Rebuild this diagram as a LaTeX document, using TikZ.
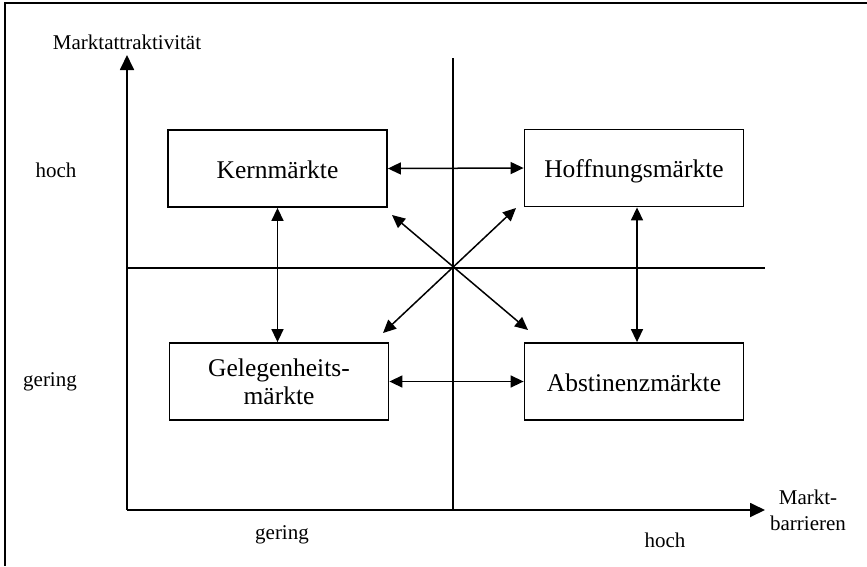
\documentclass[tikz,border=0pt]{standalone}
\usepackage{fontspec}
\setmainfont{Liberation Serif}
\usetikzlibrary{arrows.meta}
\begin{document}
\begin{tikzpicture}[x=1pt,y=-1pt,
  market/.style={draw,line width=1.8pt,minimum width=219pt,minimum height=77pt,
    inner sep=0pt,font=\fontsize{25.5}{28}\selectfont,align=center,
    text height=19pt,text depth=0pt},
  lbl/.style={font=\fontsize{21}{26}\selectfont,inner sep=0pt,align=center},
  axis/.style={line width=1.8pt,-{Triangle[length=15pt,width=14pt]}},
  divider/.style={line width=1.3pt},
  link/.style={line width=1.5pt,{Triangle[length=13pt,width=12pt]}-{Triangle[length=13pt,width=12pt]}},
  frame/.style={line width=1.5pt}]
\useasboundingbox (0,0) rectangle (867,566);
% open frame
\draw[frame] (867,3) -- (5,3) -- (5,566);
% axes
\coordinate (O) at (127,510);
\coordinate (ytip) at (127,55);
\coordinate (xtip) at (765,510);
\draw[axis] (O) -- (ytip);
\draw[axis] (O) -- (xtip);
% quadrant dividers
\coordinate (vtop) at (453,58);
\coordinate (vbot) at (453,510);
\coordinate (hl) at (127,268);
\coordinate (hr) at (765,268);
\draw[divider] (vtop) -- (vbot);
\draw[divider] (hl) -- (hr);
% market boxes
\node[market] (kern) at (277.5,168.5) {Kernmärkte};
\node[market] (hoff) at (634,168) {Hoffnungsmärkte};
\node[market,text height=46pt,text depth=0pt] (gel) at (279,381.5) {Gelegenheits-\\märkte};
\node[market] (abs) at (634,381.5) {Abstinenzmärkte};
% links between boxes
\draw[link] (kern.east) -- (hoff.west);
\draw[link] (gel.east) -- (abs.west);
\draw[link] (kern.south) -- (kern.south |- gel.north);
\draw[link] ([xshift=3pt]hoff.south) -- ([xshift=3pt]hoff.south |- abs.north);
% diagonal links through the centre
\coordinate (dul) at (392,215);
\coordinate (ddr) at (528,330);
\coordinate (dur) at (516,208);
\coordinate (ddl) at (383,333);
\draw[link] (dul) -- (ddr);
\draw[link] (dur) -- (ddl);
% axis labels
\node[lbl] (ylab) at (127,42) {Marktattraktivität};
\node[lbl] (xlab) at (808,510) {Markt-\\barrieren};
\node[lbl] (yhi) at (56,170) {hoch};
\node[lbl] (ylo) at (50,382) {gering};
\node[lbl] (xlo) at (282,535) {gering};
\node[lbl] (xhi) at (665,540) {hoch};
\end{tikzpicture}
\end{document}
